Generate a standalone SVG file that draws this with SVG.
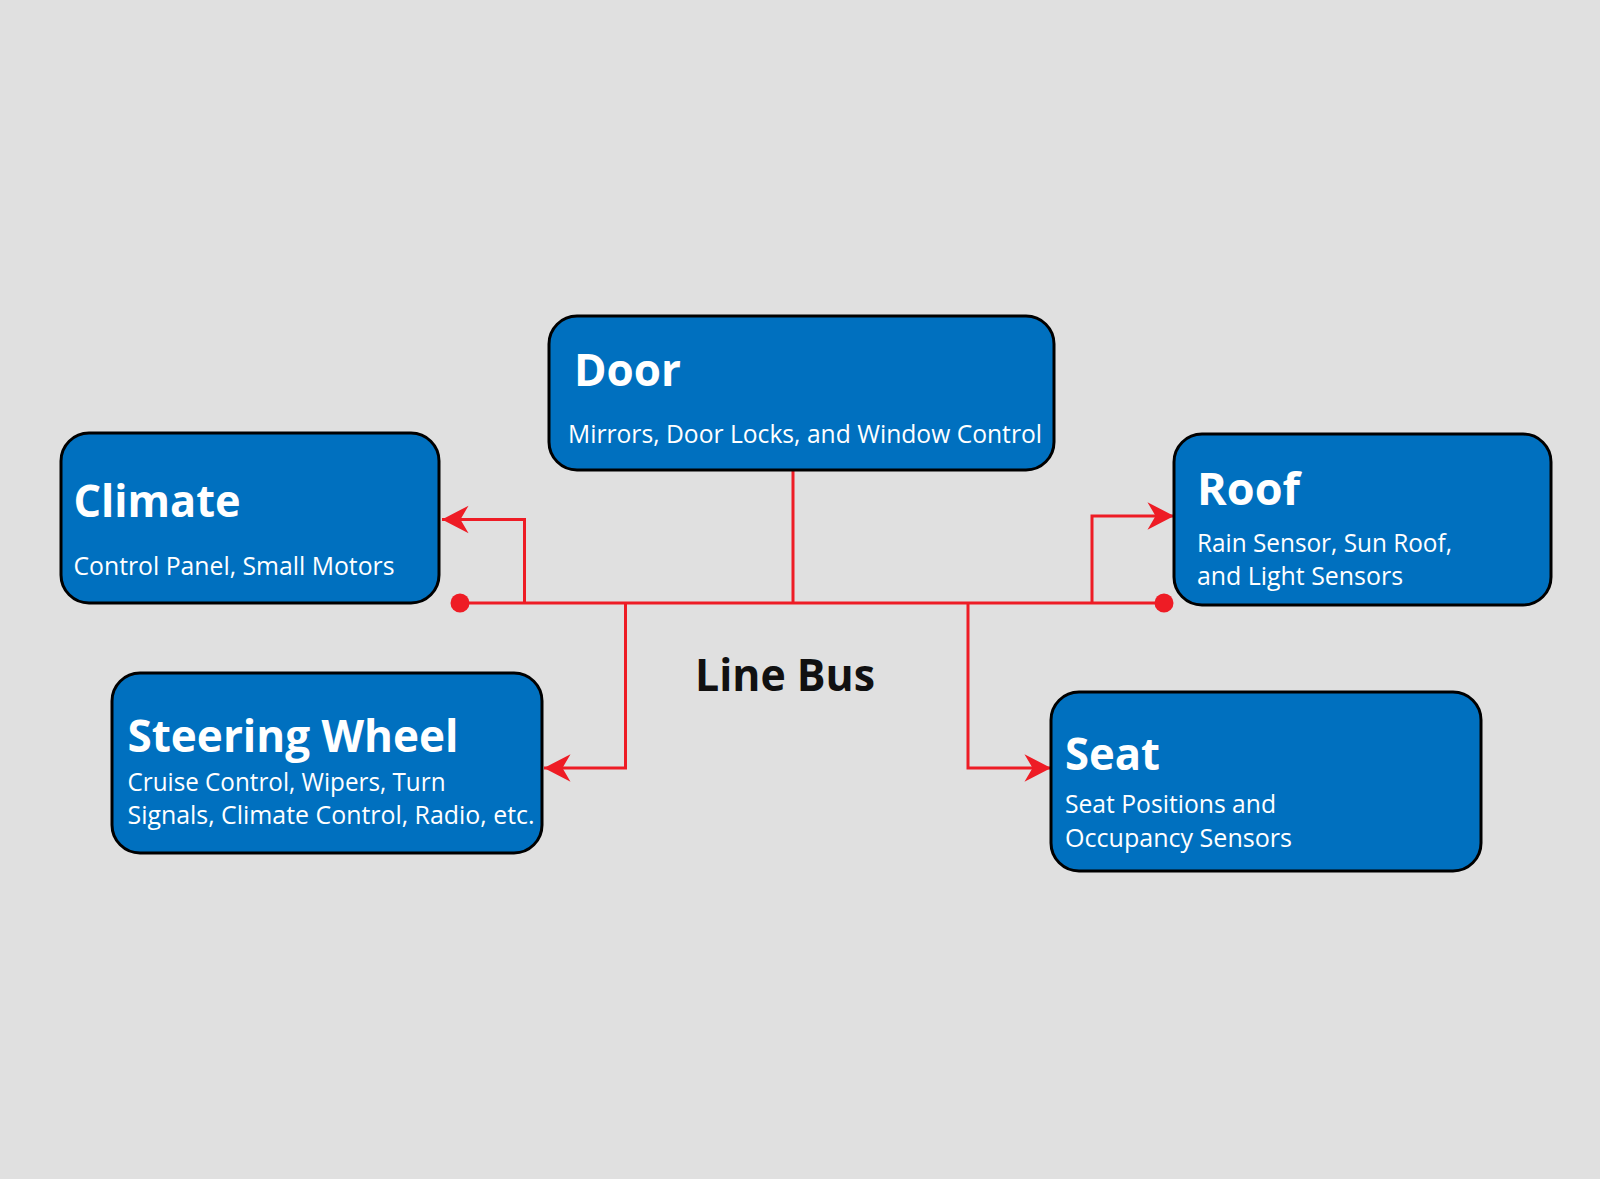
<svg xmlns="http://www.w3.org/2000/svg" width="1600" height="1179" viewBox="0 0 1600 1179">
<defs>
<style>
.box{fill:#0070BF;stroke:#000;stroke-width:3}
.t{font-family:"Open Sans","Liberation Sans",sans-serif;font-weight:700;font-size:45px;fill:#fff}
.s{font-family:"Open Sans","Liberation Sans",sans-serif;font-weight:400;font-size:26px;fill:#fff}
.bus{fill:none;stroke:#EE1C25;stroke-width:3}
.lbl{font-family:"Open Sans","Liberation Sans",sans-serif;font-weight:700;font-size:45px;fill:#111}
</style>
<marker id="arr" markerUnits="userSpaceOnUse" markerWidth="30" markerHeight="30" viewBox="-24 -13 26 26" refX="0" refY="0" orient="auto">
<path d="M0,0 L-23,-12 L-16,0 L-23,12 Z" fill="#EE1C25"/>
</marker>
</defs>
<rect width="1600" height="1179" fill="#E0E0E0"/>
<g id="connectors">
<path class="bus" d="M460,603 H1164"/>
<path class="bus" d="M793,470 V603"/>
<path class="bus" d="M524.5,603 V519.5 H442" marker-end="url(#arr)"/>
<path class="bus" d="M625.5,603 V768 H544" marker-end="url(#arr)"/>
<path class="bus" d="M968,603 V768 H1051" marker-end="url(#arr)"/>
<path class="bus" d="M1092,603 V516 H1174" marker-end="url(#arr)"/>
<circle cx="460" cy="603" r="9.5" fill="#EE1C25"/>
<circle cx="1164" cy="603" r="9.5" fill="#EE1C25"/>
</g>
<g id="door">
<rect class="box" x="549" y="316" width="505" height="154" rx="28"/>
<text class="t" x="574" y="386" textLength="107" lengthAdjust="spacingAndGlyphs">Door</text>
<text class="s" x="568" y="443" textLength="474" lengthAdjust="spacingAndGlyphs">Mirrors, Door Locks, and Window Control</text>
</g>
<g id="climate">
<rect class="box" x="61" y="433" width="378" height="170" rx="28"/>
<text class="t" x="73.5" y="517" textLength="167" lengthAdjust="spacingAndGlyphs">Climate</text>
<text class="s" x="73.5" y="575" textLength="321" lengthAdjust="spacingAndGlyphs">Control Panel, Small Motors</text>
</g>
<g id="roof">
<rect class="box" x="1174" y="434" width="377" height="171" rx="28"/>
<text class="t" x="1197" y="505" textLength="103" lengthAdjust="spacingAndGlyphs">Roof</text>
<text class="s" x="1197" y="552" textLength="255" lengthAdjust="spacingAndGlyphs">Rain Sensor, Sun Roof,</text>
<text class="s" x="1197" y="585" textLength="206" lengthAdjust="spacingAndGlyphs">and Light Sensors</text>
</g>
<g id="steering">
<rect class="box" x="112" y="673" width="430" height="180" rx="28"/>
<text class="t" x="127.5" y="752" textLength="331" lengthAdjust="spacingAndGlyphs">Steering Wheel</text>
<text class="s" x="127.5" y="791" textLength="318" lengthAdjust="spacingAndGlyphs">Cruise Control, Wipers, Turn</text>
<text class="s" x="127.5" y="824" textLength="407" lengthAdjust="spacingAndGlyphs">Signals, Climate Control, Radio, etc.</text>
</g>
<g id="seat">
<rect class="box" x="1051" y="692" width="430" height="179" rx="28"/>
<text class="t" x="1065" y="770" textLength="95" lengthAdjust="spacingAndGlyphs">Seat</text>
<text class="s" x="1065" y="813" textLength="211" lengthAdjust="spacingAndGlyphs">Seat Positions and</text>
<text class="s" x="1065" y="847" textLength="227" lengthAdjust="spacingAndGlyphs">Occupancy Sensors</text>
</g>
<g id="label">
<text class="lbl" x="695" y="691" textLength="180" lengthAdjust="spacingAndGlyphs">Line Bus</text>
</g>
</svg>
